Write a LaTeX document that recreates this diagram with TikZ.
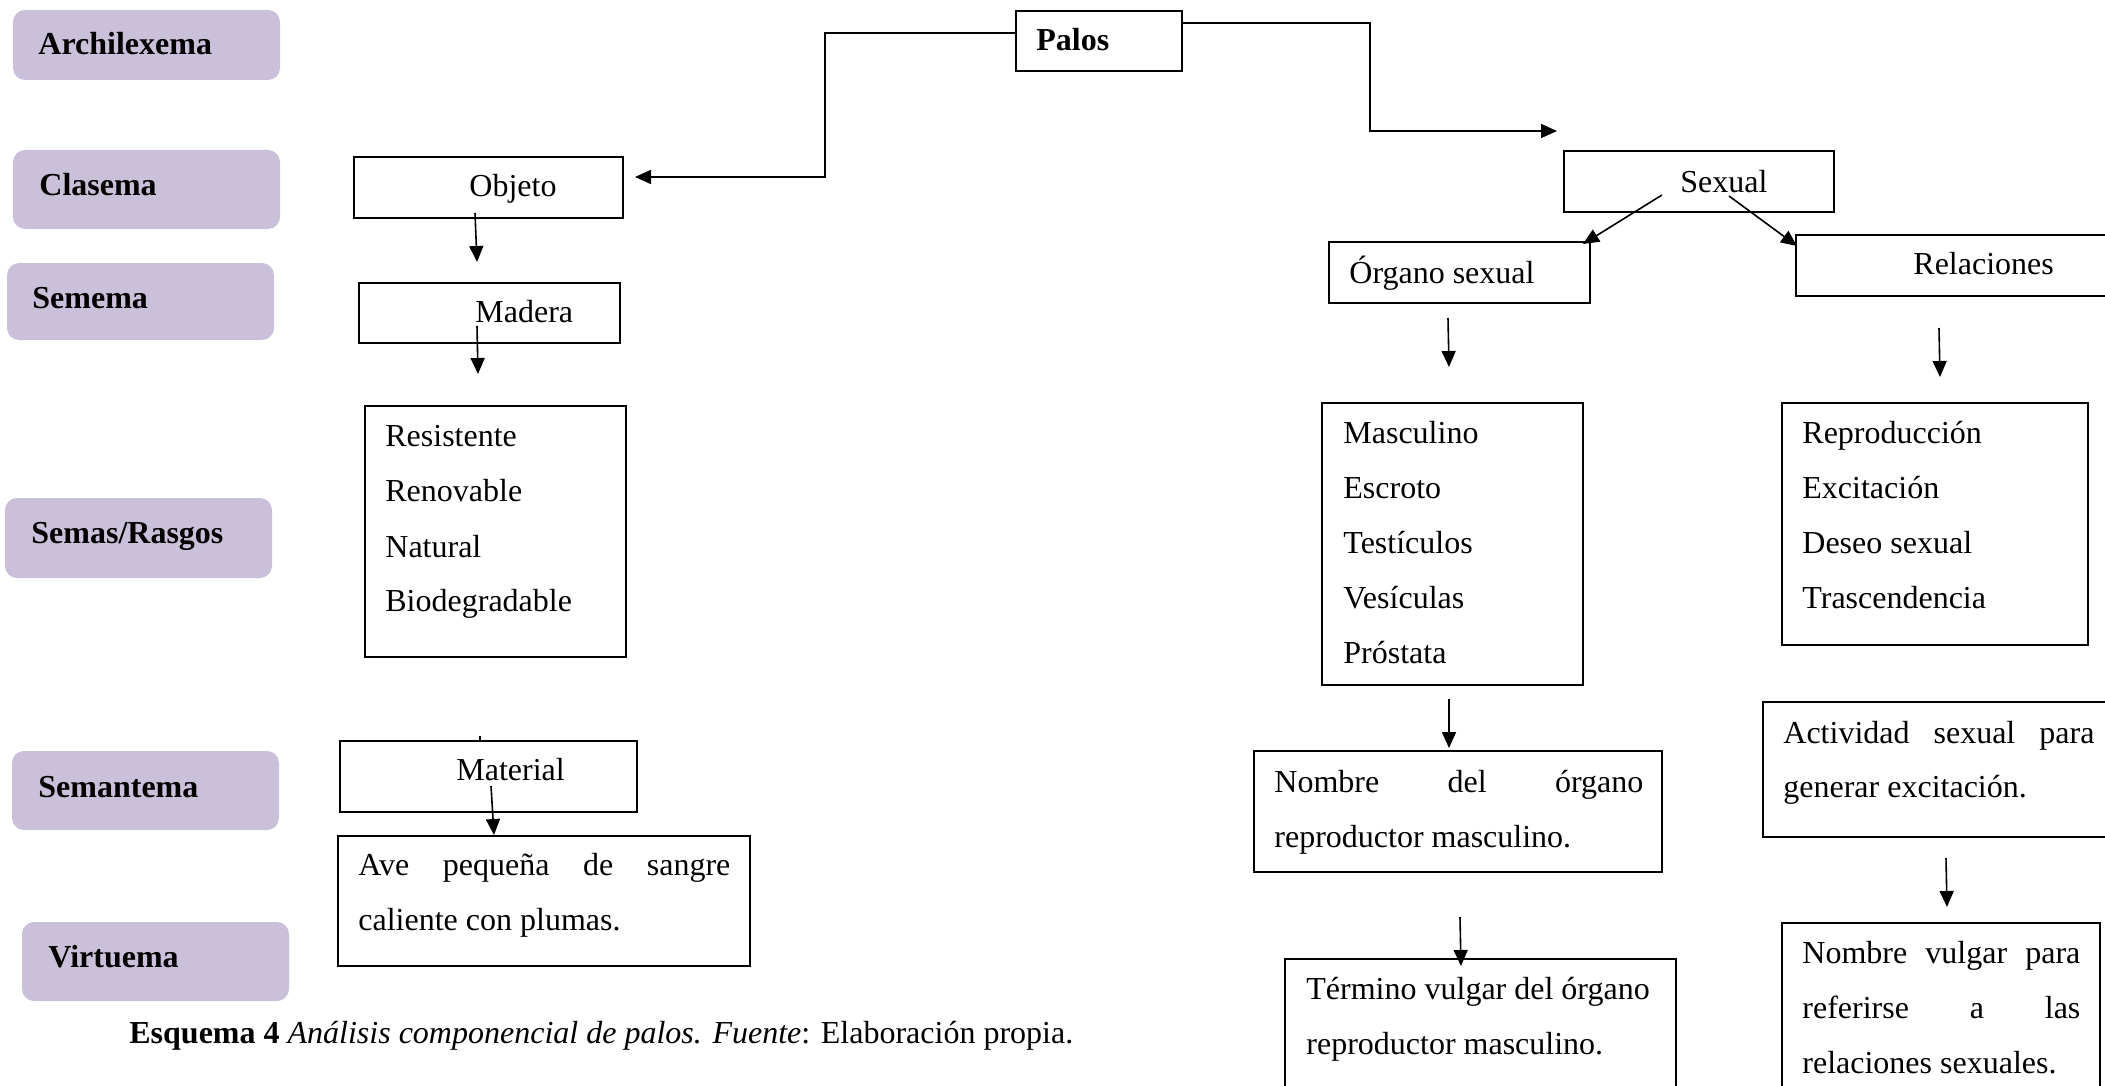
\documentclass[tikz,border=0pt]{standalone}
\usepackage{fontspec}
\setmainfont{Liberation Serif}
\usetikzlibrary{arrows.meta,fit}
\definecolor{lav}{HTML}{CBC0DA}

\begin{document}
\begin{tikzpicture}[x=0.5pt,y=-0.5pt,
  lvl/.style={fill=lav, draw=none, rounded corners=6pt, inner sep=0pt},
  box/.style={draw=black, line width=0.7pt, inner sep=0pt},
  txt/.style={font=\fontsize{16}{19}\selectfont, inner sep=0pt, anchor=base west},
  lbl/.style={txt, font=\fontsize{16}{19}\selectfont\bfseries},
  arr/.style={line width=0.8pt, -{Triangle[length=8pt,width=7pt]}}]

\clip (0,0) rectangle (2105,1086);

% level labels on the left
\node[lvl, fit={(13,10)(280,80)}] (Larch) {};
\node[lvl, fit={(13,150)(280,229)}] (Lclas) {};
\node[lvl, fit={(7,263)(274,340)}] (Lsem) {};
\node[lvl, fit={(5,498)(272,578)}] (Lsemas) {};
\node[lvl, fit={(12,751)(279,830)}] (Lsemant) {};
\node[lvl, fit={(22,922)(289,1001)}] (Lvirt) {};
\node[lbl] (tarch) at (38,55) {Archilexema};
\node[lbl] (tclas) at (39,195) {Clasema};
\node[lbl] (tsem) at (32,308) {Semema};
\node[lbl] (tsemas) at (31,543) {Semas/Rasgos};
\node[lbl] (tsemant) at (38,797) {Semantema};
\node[lbl] (tvirt) at (48,967) {Virtuema};

% boxes
\node[box, fit={(1016,11)(1182,71)}] (palos) {};
\node[box, fit={(354,157)(623,218)}] (objeto) {};
\node[box, fit={(359,283)(620,343)}] (madera) {};
\node[box, fit={(365,406)(626,657)}] (resist) {};
\node[box, fit={(340,741)(637,812)}] (material) {};
\node[box, fit={(338,836)(750,966)}] (ave) {};
\node[box, fit={(1564,151)(1834,212)}] (sexual) {};
\node[box, fit={(1329,242)(1590,303)}] (organo) {};
\node[box, fit={(1796,235)(2120,296)}] (relac) {};
\node[box, fit={(1322,403)(1583,685)}] (mascul) {};
\node[box, fit={(1782,403)(2088,645)}] (repro) {};
\node[box, fit={(1254,751)(1662,872)}] (nombre) {};
\node[box, fit={(1763,702)(2120,837)}] (activ) {};
\node[box, fit={(1285,959)(1676,1100)}] (termino) {};
\node[box, fit={(1782,923)(2100,1100)}] (vulgar) {};

% texts
\node[lbl] (tpalos) at (1036,51) {Palos};
\node[txt] (tobj) at (469,197) {Objeto};
\node[txt] (tmad) at (475,322) {Madera};
\node[txt] (r1) at (385,446) {Resistente};
\node[txt] (r2) at (385,501) {Renovable};
\node[txt] (r3) at (385,557) {Natural};
\node[txt] (r4) at (385,611) {Biodegradable};
\node[txt] (tmat) at (456,780) {Material};
\node[txt] (a1) at (358,875) {\hbox to 186pt{Ave\hfill pequeña\hfill de\hfill sangre}};
\node[txt] (a2) at (358,930) {caliente con plumas.};
\node[txt] (tsex) at (1680,192) {Sexual};
\node[txt] (torg) at (1349,283) {Órgano sexual};
\node[txt] (trel) at (1913,274) {Relaciones};
\node[txt] (m1) at (1343,443) {Masculino};
\node[txt] (m2) at (1343,498) {Escroto};
\node[txt] (m3) at (1343,553) {Testículos};
\node[txt] (m4) at (1343,608) {Vesículas};
\node[txt] (m5) at (1343,663) {Próstata};
\node[txt] (p1) at (1802,443) {Reproducción};
\node[txt] (p2) at (1802,498) {Excitación};
\node[txt] (p3) at (1802,553) {Deseo sexual};
\node[txt] (p4) at (1802,608) {Trascendencia};
\node[txt] (n1) at (1274,792) {\hbox to 184.5pt{Nombre\hfill del\hfill órgano}};
\node[txt] (n2) at (1274,847) {reproductor masculino.};
\node[txt] (c1) at (1783,743) {\hbox to 155.5pt{Actividad\hfill sexual\hfill para}};
\node[txt] (c2) at (1783,797) {generar excitación.};
\node[txt] (v1) at (1306,999) {Término vulgar del órgano};
\node[txt] (v2) at (1306,1054) {reproductor masculino.};
\node[txt] (w1) at (1802,963) {\hbox to 139pt{Nombre\hfill vulgar\hfill para}};
\node[txt] (w2) at (1802,1018) {\hbox to 139pt{referirse\hfill a\hfill las}};
\node[txt] (w3) at (1802,1073) {relaciones sexuales.};

\node[txt] (caption) at (129,1043) {\textbf{Esquema 4} \textit{Análisis componencial de palos. Fuente}: Elaboración propia.};

% connector end points
\coordinate (pL) at (1016,33);
\coordinate (oT) at (635,177);
\coordinate (pR) at (1182,23);
\coordinate (sT) at (1557,131);
\coordinate (o1) at (475,213);  \coordinate (o2) at (477,262);
\coordinate (d1) at (477,326);  \coordinate (d2) at (478,374);
\coordinate (t1) at (491,786);  \coordinate (t2) at (494,835);
\coordinate (s1) at (1662,195); \coordinate (s2) at (1583,244);
\coordinate (s3) at (1729,196); \coordinate (s4) at (1797,246);
\coordinate (g1) at (1448,318); \coordinate (g2) at (1449,367);
\coordinate (e1) at (1939,328); \coordinate (e2) at (1940,377);
\coordinate (k1) at (1449,699); \coordinate (k2) at (1449,748);
\coordinate (b1) at (1460,917); \coordinate (b2) at (1461,966);
\coordinate (h1) at (1946,858); \coordinate (h2) at (1947,907);

% connectors
\draw[arr] (pL) -- ++(-191,0) |- (oT);
\draw[arr] (pR) -- ++(188,0) |- (sT);
\draw[arr] (o1) -- (o2);
\draw[arr] (d1) -- (d2);
\draw[arr] (t1) -- (t2);
\draw[arr] (s1) -- (s2);
\draw[arr] (s3) -- (s4);
\draw[arr] (g1) -- (g2);
\draw[arr] (e1) -- (e2);
\draw[arr] (k1) -- (k2);
\draw[arr] (b1) -- (b2);
\draw[arr] (h1) -- (h2);

% small tick on top of the Material box
\draw[line width=0.6pt] (480,736) -- (material.north -| 480,0);
\end{tikzpicture}
\end{document}
